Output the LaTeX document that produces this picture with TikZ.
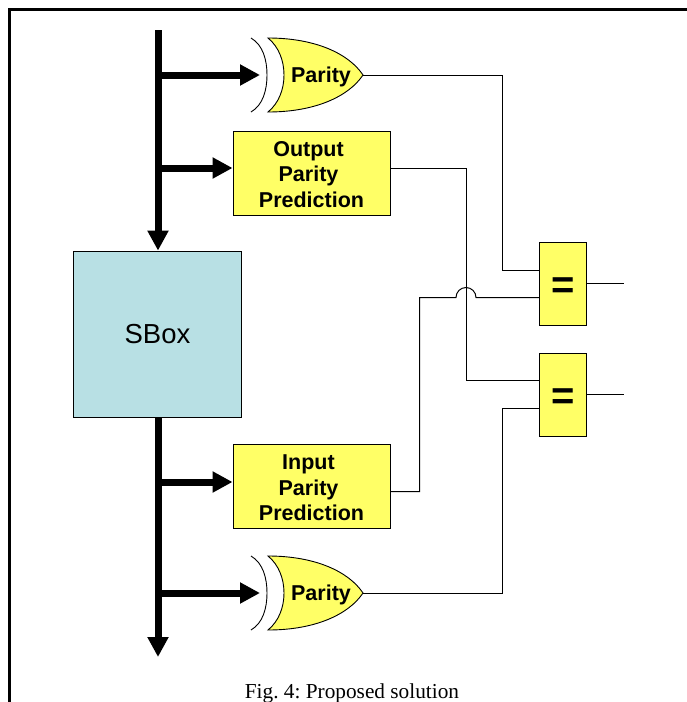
\documentclass[tikz,border=0pt]{standalone}
\usepackage{fontspec}
\setmainfont{Liberation Sans}
\newfontfamily\captionserif{Liberation Serif}
\usepackage{tikz}
\usetikzlibrary{arrows.meta, positioning}

\definecolor{gateyellow}{RGB}{255,255,102}
\definecolor{sboxblue}{RGB}{184,224,228}

\tikzset{
  paritygate/.pic={
    % back curve, then the gate body
    \draw[line width=0.9pt] (-70,-37) .. controls (-58,-30) and (-54,-15) .. (-54,0)
      .. controls (-54,15) and (-58,30) .. (-70,37);
    \draw[fill=gateyellow, line width=0.9pt] (-53,-37) .. controls (-42,-28) and (-37,-14) .. (-37,0)
      .. controls (-37,14) and (-42,28) .. (-53,37)
      .. controls (-5,37) and (28,21) .. (42,0)
      .. controls (28,-21) and (-5,-37) .. (-53,-37) -- cycle;
    \node[font=\fontsize{21.5}{24}\selectfont\bfseries] (-label) at (0,2) {Parity};
    \coordinate (-tip) at (42,0);
    \coordinate (-in) at (-61,0);
  }
}

\begin{document}
\frenchspacing
\begin{tikzpicture}[
      x=1pt, y=-1pt,
      bus/.style={draw, line width=7pt, -{Triangle[length=20pt, width=20pt]}},
      wire/.style={draw, line width=1pt},
      predict/.style={rectangle, draw, fill=gateyellow, line width=0.9pt, minimum width=157pt, minimum height=84pt,
        inner sep=0pt, align=center, font=\fontsize{21.5}{25.5}\selectfont\bfseries},
      compare/.style={rectangle, draw, fill=gateyellow, line width=0.9pt, minimum width=47pt, minimum height=83pt,
        inner sep=0pt, font=\fontsize{40}{40}\selectfont\bfseries},
      sbox/.style={rectangle, draw, fill=sboxblue, line width=0.8pt, minimum width=168pt, minimum height=166pt,
        inner sep=0pt, font=\fontsize{27.5}{30}\selectfont}
    ]
    \useasboundingbox (0,0) rectangle (687,702);

    % Page frame, cut off on the right and at the bottom
    \draw[line width=2.6pt] (9.5,702) -- (9.5,9.5) -- (687,9.5);

    % Blocks
    \node[sbox] (sbox) at (157.5,334) {\raisebox{-1pt}{SBox}};
    \node[predict] (outpred) at (311.5,173) {\rule{0pt}{18pt}Output\kern6pt\\Parity\kern6pt\\Prediction};
    \node[predict] (inpred) at (311.5,486.5) {\rule{0pt}{18pt}Input\kern6pt\\Parity\kern6pt\\Prediction};
    \node[compare, text height=30pt, text depth=0pt] (eqtop) at (563,283.5) {=};
    \node[compare, text height=30pt, text depth=0pt] (eqbot) at (563,394.5) {=};
    \pic (partop) at (321,75) {paritygate};
    \pic (parbot) at (321,593) {paritygate};

    % Data bus
    \coordinate (busstart) at (158,30);
    \coordinate (busend) at (158,657);
    \draw[bus] (busstart) -- (sbox.north -| busstart);
    \draw[bus] (sbox.south -| busstart) -- (busend);

    % Taps off the bus
    \draw[bus] (158,75) -- (partop-in);
    \draw[bus] (158,168) -- (outpred.west |- 0,168);
    \draw[bus] (158,482) -- (inpred.west |- 0,482);
    \draw[bus] (158,593) -- (parbot-in);

    % Wires to the comparators
    \draw[wire] (partop-tip) -| (502,270) -- ([yshift=13.5pt]eqtop.west);
    \draw[wire] (outpred.east |- 0,168) -| (466,380) -- ([yshift=14.5pt]eqbot.west);
    \draw[wire] (inpred.east |- 0,491.5) -| (419.5,297.5) -- (456,297.5)
      arc[start angle=180, end angle=360, radius=10] -- ([yshift=-14pt]eqtop.west);
    \draw[wire] (parbot-tip) -| (502,408) -- ([yshift=-13.5pt]eqbot.west);

    % Outputs
    \coordinate (outtop) at (624,283.5);
    \coordinate (outbot) at (624,394.5);
    \draw[wire] (eqtop.east) -- (outtop);
    \draw[wire] (eqbot.east) -- (outbot);

    % Caption
    \node[font=\captionserif\fontsize{21.3}{24}\selectfont, anchor=base] (caption) at (352,698) {Fig. 4: Proposed solution};
  \end{tikzpicture}
\end{document}
